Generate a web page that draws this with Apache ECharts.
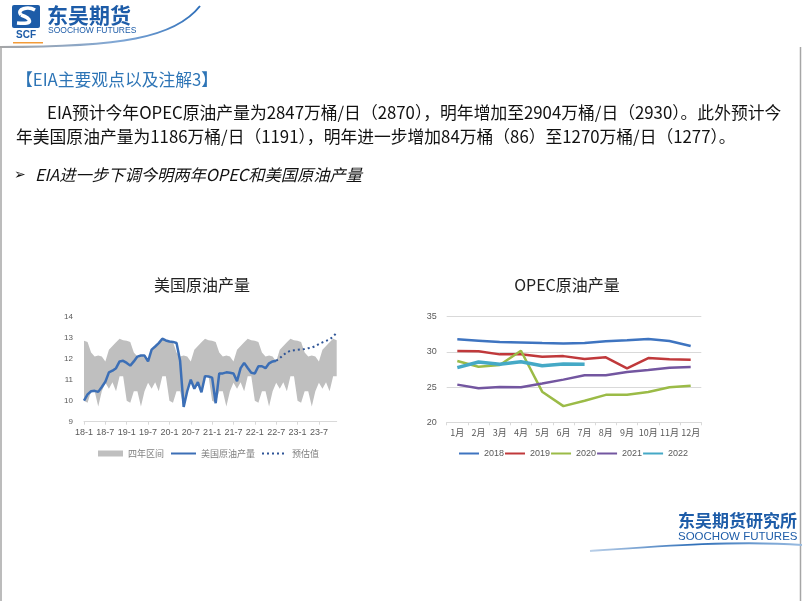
<!DOCTYPE html>
<html><head><meta charset="utf-8">
<script src="https://cdn.jsdelivr.net/npm/echarts@6/dist/echarts.min.js"></script>
<style>html,body{margin:0;padding:0;background:#fff}#c{width:802px;height:602px}</style>
</head><body><div id="c"></div>
<script>
// ---------- data ----------
const usYears = [18, 19, 20, 21, 22, 23];
const usCategories = [];
usYears.forEach(y => { for (let m = 1; m <= 12; m++) usCategories.push(y + '-' + m); });
// four-year range by calendar month (repeats every year)
const bandUpper = [12.85, 12.8, 12.3, 12.1, 12.15, 12.1, 11.87, 12.43, 12.6, 12.78, 12.95, 12.88];
const bandLower = [10.0, 9.9, 10.45, 10.45, 9.72, 10.45, 10.85, 10.57, 10.88, 10.45, 11.17, 11.17];
const usActual = [
  10.0, 10.3, 10.45, 10.47, 10.42, 10.65, 10.9, 11.35, 11.43, 11.55, 11.87, 11.9,
  11.8, 11.67, 11.87, 12.1, 12.15, 12.15, 11.87, 12.43, 12.58, 12.74, 12.95, 12.87,
  12.82, 12.8, 12.75, 11.9, 9.7, 10.45, 11.0, 10.57, 10.88, 10.4, 11.17, 11.15,
  11.1, 9.88, 11.3, 11.3, 11.35, 11.33, 11.3, 10.93, 11.55, 11.8, 11.56, 11.33,
  11.3, 11.64, 11.64, 11.55, 11.78, 11.87, 11.9
];
// forecast from 22-7 to 23-12
const usForecast = [11.9, 12.02, 12.18, 12.3, 12.38, 12.4, 12.42, 12.44, 12.46, 12.5, 12.53, 12.6, 12.7, 12.78, 12.85, 12.92, 13.05, 13.25];
const usYTicks = [9, 14];

const opecMonths = ['1月','2月','3月','4月','5月','6月','7月','8月','9月','10月','11月','12月'];
const opec2018 = [31.78, 31.6, 31.4, 31.35, 31.26, 31.2, 31.25, 31.5, 31.65, 31.83, 31.55, 30.83];
const opec2019 = [30.13, 30.08, 29.65, 29.65, 29.3, 29.4, 28.98, 29.23, 27.66, 29.13, 28.95, 28.9];
const opec2020 = [28.7, 27.9, 28.14, 30.17, 24.35, 22.3, 23.07, 23.9, 23.9, 24.3, 24.97, 25.2];
const opec2021 = [25.35, 24.83, 25.0, 24.97, 25.5, 26.06, 26.67, 26.67, 27.14, 27.43, 27.76, 27.85];
const opec2022 = [27.76, 28.56, 28.23, 28.6, 28.04, 28.28, 28.23];

// ---------- derived tables ----------
const lowerSeries = [], rangeSeries = [];
usCategories.forEach((c, i) => {
  const k = i % 12;
  lowerSeries.push(bandLower[k]);
  rangeSeries.push(+(bandUpper[k] - bandLower[k]).toFixed(3));
});
const forecastStart = usActual.length - 1;
const forecastSeries = usCategories.map((c, i) => i < forecastStart ? null : usForecast[i - forecastStart]);

const axisGray = '#595959';
const cjk = '"Noto Sans CJK SC", sans-serif';
const latin = '"Liberation Sans", Arial, sans-serif';
const logoBlue = '#1D5CA8';
const grad = (stops) => new echarts.graphic.LinearGradient(0, 0, 1, 0, stops);

const chart = echarts.init(document.getElementById('c'), null, {renderer: 'canvas'});
chart.setOption({
  backgroundColor: '#ffffff',
  animation: false,
  title: [
    {text: '美国原油产量', left: 197, top: 272, textAlign: 'center',
     textStyle: {fontFamily: cjk, fontSize: 16, fontWeight: 'normal', color: '#222'}},
    {text: 'OPEC原油产量', left: 562, top: 272, textAlign: 'center',
     textStyle: {fontFamily: cjk, fontSize: 16, fontWeight: 'normal', color: '#222'}}
  ],
  grid: [
    {left: 84, top: 316.7, width: 252.7, height: 105},
    {left: 446.7, top: 316.7, width: 254.6, height: 105.6}
  ],
  legend: [
    {left: 93, top: 444, itemWidth: 25, itemHeight: 6, itemGap: 10,
     data: [{name: '四年区间', icon: 'rect'}],
     textStyle: {fontFamily: cjk, fontSize: 9, color: '#808080'}},
    {left: 165, top: 444, itemWidth: 25, itemHeight: 6, itemGap: 6,
     itemStyle: {opacity: 0},
     data: ['美国原油产量', '预估值'],
     textStyle: {fontFamily: cjk, fontSize: 9, color: '#808080'}},
    {left: 453, top: 444, itemWidth: 20, itemHeight: 6, itemGap: 0,
     itemStyle: {opacity: 0},
     data: ['2018', '2019', '2020', '2021', '2022'],
     textStyle: {fontFamily: latin, fontSize: 9, color: '#595959'}}
  ],
  xAxis: [
    {type: 'category', gridIndex: 0, data: usCategories, boundaryGap: false,
     axisLine: {lineStyle: {color: '#D9D9D9'}},
     axisTick: {show: true, interval: 5, length: 3, lineStyle: {color: '#D9D9D9'}},
     axisLabel: {interval: 5, color: axisGray, fontSize: 9, margin: 6, fontFamily: latin}},
    {type: 'category', gridIndex: 1, data: opecMonths, boundaryGap: true,
     axisLine: {lineStyle: {color: '#D9D9D9'}},
     axisTick: {show: true, interval: 0, length: 3, lineStyle: {color: '#D9D9D9'}},
     axisLabel: {interval: 0, color: axisGray, fontSize: 9, margin: 6, fontFamily: cjk}}
  ],
  yAxis: [
    {type: 'value', gridIndex: 0, min: usYTicks[0], max: usYTicks[1], interval: 1,
     splitLine: {show: false}, axisLine: {show: false}, axisTick: {show: false},
     axisLabel: {color: axisGray, fontSize: 8, margin: 11, fontFamily: latin}},
    {type: 'value', gridIndex: 1, min: 20, max: 35, interval: 5,
     splitLine: {lineStyle: {color: '#D9D9D9'}}, axisLine: {show: false}, axisTick: {show: false},
     axisLabel: {color: axisGray, fontSize: 9, margin: 10, fontFamily: latin}}
  ],
  series: [
    {name: 'bandBase', type: 'line', xAxisIndex: 0, yAxisIndex: 0, stack: 'band', data: lowerSeries,
     symbol: 'none', lineStyle: {opacity: 0}, silent: true, z: 1},
    {name: '四年区间', type: 'line', xAxisIndex: 0, yAxisIndex: 0, stack: 'band', data: rangeSeries,
     symbol: 'none', lineStyle: {width: 0, opacity: 0}, itemStyle: {color: '#BFBFBF'},
     areaStyle: {color: '#BFBFBF', opacity: 1}, z: 1},
    {name: '美国原油产量', type: 'line', xAxisIndex: 0, yAxisIndex: 0, data: usActual,
     symbol: 'none', itemStyle: {color: '#3C6FB6'}, lineStyle: {color: '#3C6FB6', width: 2.5}, z: 3},
    {name: '预估值', type: 'line', xAxisIndex: 0, yAxisIndex: 0, data: forecastSeries,
     symbol: 'none', itemStyle: {color: '#2F5597'}, lineStyle: {color: '#2F5597', width: 2, type: [2, 3]}, z: 3},

    {name: '2018', type: 'line', xAxisIndex: 1, yAxisIndex: 1, data: opec2018, symbol: 'none',
     itemStyle: {color: '#3E74C0'}, lineStyle: {color: '#3E74C0', width: 2.5}},
    {name: '2019', type: 'line', xAxisIndex: 1, yAxisIndex: 1, data: opec2019, symbol: 'none',
     itemStyle: {color: '#C0393B'}, lineStyle: {color: '#C0393B', width: 2.5}},
    {name: '2020', type: 'line', xAxisIndex: 1, yAxisIndex: 1, data: opec2020, symbol: 'none',
     itemStyle: {color: '#9BBB47'}, lineStyle: {color: '#9BBB47', width: 2.5}},
    {name: '2021', type: 'line', xAxisIndex: 1, yAxisIndex: 1, data: opec2021, symbol: 'none',
     itemStyle: {color: '#7356A0'}, lineStyle: {color: '#7356A0', width: 2.5}},
    {name: '2022', type: 'line', xAxisIndex: 1, yAxisIndex: 1, data: opec2022, symbol: 'none',
     itemStyle: {color: '#45A9C6'}, lineStyle: {color: '#45A9C6', width: 3.5}}
  ],
  graphic: [
    // frame
    {type: 'line', shape: {x1: 1, y1: 47, x2: 1, y2: 601}, style: {stroke: '#A6A6A6', lineWidth: 1.5}, silent: true},
    {type: 'line', shape: {x1: 800.5, y1: 47, x2: 800.5, y2: 601}, style: {stroke: '#A6A6A6', lineWidth: 1.5}, silent: true},
    // header swoosh
    {type: 'bezierCurve', shape: {x1: 0, y1: 47, cpx1: 120, cpy1: 47, cpx2: 175, cpy2: 38, x2: 200, y2: 6},
     style: {stroke: grad([{offset: 0, color: '#A6A6A6'}, {offset: 0.6, color: '#7FA7D6'}, {offset: 1, color: '#2C6DB8'}]), lineWidth: 2, fill: null}, silent: true},
    // header logo mark
    {type: 'rect', shape: {x: 12, y: 5, width: 28, height: 23, r: 2}, style: {fill: logoBlue}, silent: true},
    {type: 'bezierCurve', shape: {x1: 35, y1: 10, cpx1: 28, cpy1: 6, cpx2: 16, cpy2: 9, x2: 21, y2: 15},
     style: {stroke: '#ffffff', lineWidth: 3.5, fill: null}, silent: true},
    {type: 'bezierCurve', shape: {x1: 21, y1: 15, cpx1: 30, cpy1: 18, cpx2: 36, cpy2: 25, x2: 17, y2: 23},
     style: {stroke: '#ffffff', lineWidth: 3.5, fill: null}, silent: true},
    {type: 'text', style: {text: 'SCF', x: 26, y: 35, textAlign: 'center', textVerticalAlign: 'middle',
      font: 'bold 10px ' + latin, fill: logoBlue}, silent: true},
    {type: 'rect', shape: {x: 13, y: 42, width: 30, height: 1.5}, style: {fill: '#F29B38'}, silent: true},
    {type: 'text', style: {text: '东吴期货', x: 47, y: 15, textVerticalAlign: 'middle',
      font: 'bold 21px ' + cjk, fill: logoBlue}, silent: true},
    {type: 'text', style: {text: 'SOOCHOW FUTURES', x: 48, y: 31, textVerticalAlign: 'middle',
      font: '8.5px ' + latin, fill: logoBlue}, silent: true},
    // slide text
    {type: 'text', style: {text: '【EIA主要观点以及注解3】', x: 16, y: 80, textVerticalAlign: 'middle',
      font: '16.8px ' + cjk, fill: '#2E75B6'}, silent: true},
    {type: 'text', style: {text: 'EIA预计今年OPEC原油产量为2847万桶/日（2870），明年增加至2904万桶/日（2930）。此外预计今', x: 47, y: 113, textVerticalAlign: 'middle',
      font: '16.8px ' + cjk, fill: '#111'}, silent: true},
    {type: 'text', style: {text: '年美国原油产量为1186万桶/日（1191），明年进一步增加84万桶（86）至1270万桶/日（1277）。', x: 16, y: 137, textVerticalAlign: 'middle',
      font: '16.8px ' + cjk, fill: '#111'}, silent: true},
    {type: 'text', style: {text: '➢', x: 14, y: 175, textVerticalAlign: 'middle',
      font: 'bold 14px "DejaVu Sans", sans-serif', fill: '#111'}, silent: true},
    {type: 'text', style: {text: 'EIA进一步下调今明两年OPEC和美国原油产量', x: 35, y: 175, textVerticalAlign: 'middle',
      font: 'italic 16.3px ' + cjk, fill: '#111'}, silent: true},
    // footer logo
    {type: 'bezierCurve', shape: {x1: 590, y1: 551, cpx1: 660, cpy1: 546, cpx2: 740, cpy2: 540, x2: 802, y2: 545},
     style: {stroke: grad([{offset: 0, color: '#BFD3EA'}, {offset: 0.5, color: '#2F6FB8'}, {offset: 1, color: '#9DBEE2'}]), lineWidth: 2, fill: null}, silent: true},
    {type: 'text', style: {text: '东吴期货研究所', x: 678, y: 521, textVerticalAlign: 'middle',
      font: 'bold 17px ' + cjk, fill: logoBlue}, silent: true},
    {type: 'text', style: {text: 'SOOCHOW FUTURES', x: 678, y: 537, textVerticalAlign: 'middle',
      font: '11.5px ' + latin, fill: logoBlue}, silent: true}
  ]
});
</script></body></html>
